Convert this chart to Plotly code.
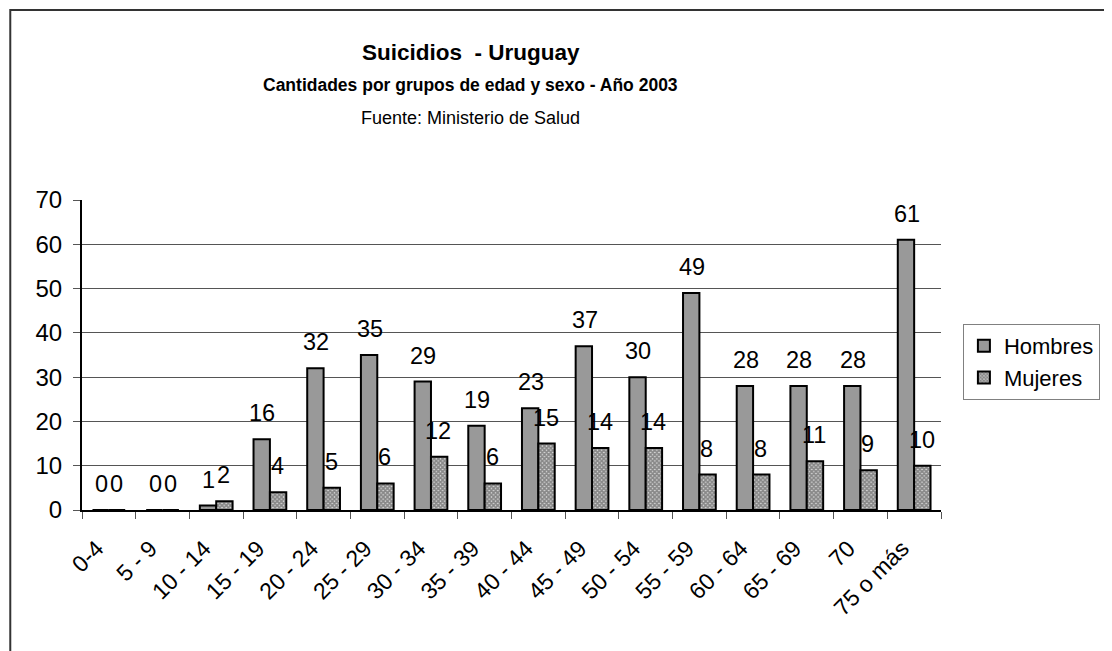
import plotly.graph_objects as go

# Suicidios en Uruguay por grupos de edad y sexo, 2003
grupos = ["0-4", "5 - 9", "10 - 14", "15 - 19", "20 - 24", "25 - 29", "30 - 34",
          "35 - 39", "40 - 44", "45 - 49", "50 - 54", "55 - 59", "60 - 64",
          "65 - 69", "70", "75 o más"]
hombres = [0, 0, 1, 16, 32, 35, 29, 19, 23, 37, 30, 49, 28, 28, 28, 61]
mujeres = [0, 0, 2, 4, 5, 6, 12, 6, 15, 14, 14, 8, 8, 11, 9, 10]

FONT = "Liberation Sans, Arial, sans-serif"

fig = go.Figure()
fig.add_trace(go.Bar(x=grupos, y=hombres, name="Hombres",
                     marker=dict(color="#999999", line=dict(color="black", width=2))))
fig.add_trace(go.Bar(x=grupos, y=mujeres, name="Mujeres",
                     marker=dict(color="white", line=dict(color="black", width=2),
                                 pattern=dict(shape="x", size=3, solidity=0.8,
                                              fgcolor="#333333", bgcolor="#dddddd"))))

# data labels, Excel style, a bit above each bar
annots = []
for serie, shift in ((hombres, -7.5), (mujeres, 7.5)):
    for i, v in enumerate(serie):
        annots.append(dict(x=i, y=v, xref="x", yref="y", text=str(v), showarrow=False,
                           xshift=shift, yshift=11, yanchor="bottom",
                           font=dict(size=23.5, color="black", family=FONT)))

# titles
annots.append(dict(x=0.4524, y=1.476, xref="paper", yref="paper", showarrow=False, yanchor="middle",
                   text="<b>Suicidios  - Uruguay</b>", font=dict(size=22.5, family=FONT, color="black")))
annots.append(dict(x=0.4524, y=1.372, xref="paper", yref="paper", showarrow=False, yanchor="middle",
                   text="<b>Cantidades por grupos de edad y sexo - Año 2003</b>",
                   font=dict(size=17.5, family=FONT, color="black")))
annots.append(dict(x=0.4524, y=1.266, xref="paper", yref="paper", showarrow=False, yanchor="middle",
                   text="Fuente: Ministerio de Salud", font=dict(size=18, family=FONT, color="black")))

fig.update_layout(
    width=1104, height=643,
    margin=dict(l=74, r=168, t=192, b=141),
    paper_bgcolor="white", plot_bgcolor="white",
    font=dict(family=FONT, size=24, color="black"),
    barmode="group", bargap=0.39, bargroupgap=0,
    annotations=annots,
    showlegend=True,
    legend=dict(x=1.0255, y=0.6, xanchor="left", yanchor="top",
                bordercolor="#808080", borderwidth=1, bgcolor="white",
                font=dict(size=22, family=FONT), tracegroupgap=0,
                itemwidth=30),
    shapes=[dict(type="rect", xref="paper", yref="paper",
                 x0=-0.0835, x1=1.5, y0=-1.0, y1=1.613,
                 line=dict(color="#333333", width=2), layer="below")],
)
fig.update_xaxes(type="category", tickangle=-45, tickson="boundaries", ticks="outside", ticklen=7,
                 tickcolor="#555555", showline=True, linecolor="black", linewidth=2,
                 showgrid=False, tickfont=dict(size=23), ticklabelstandoff=14,
                 ticklabelshift=-12)
fig.update_yaxes(range=[0, 70], dtick=10, ticks="outside", ticklen=7, tickcolor="#555555",
                 showline=True, linecolor="black", linewidth=2, showgrid=True,
                 gridcolor="#555555", gridwidth=1, zeroline=False, tickfont=dict(size=24),
                 ticklabelstandoff=6)

fig.write_html("out.html")
